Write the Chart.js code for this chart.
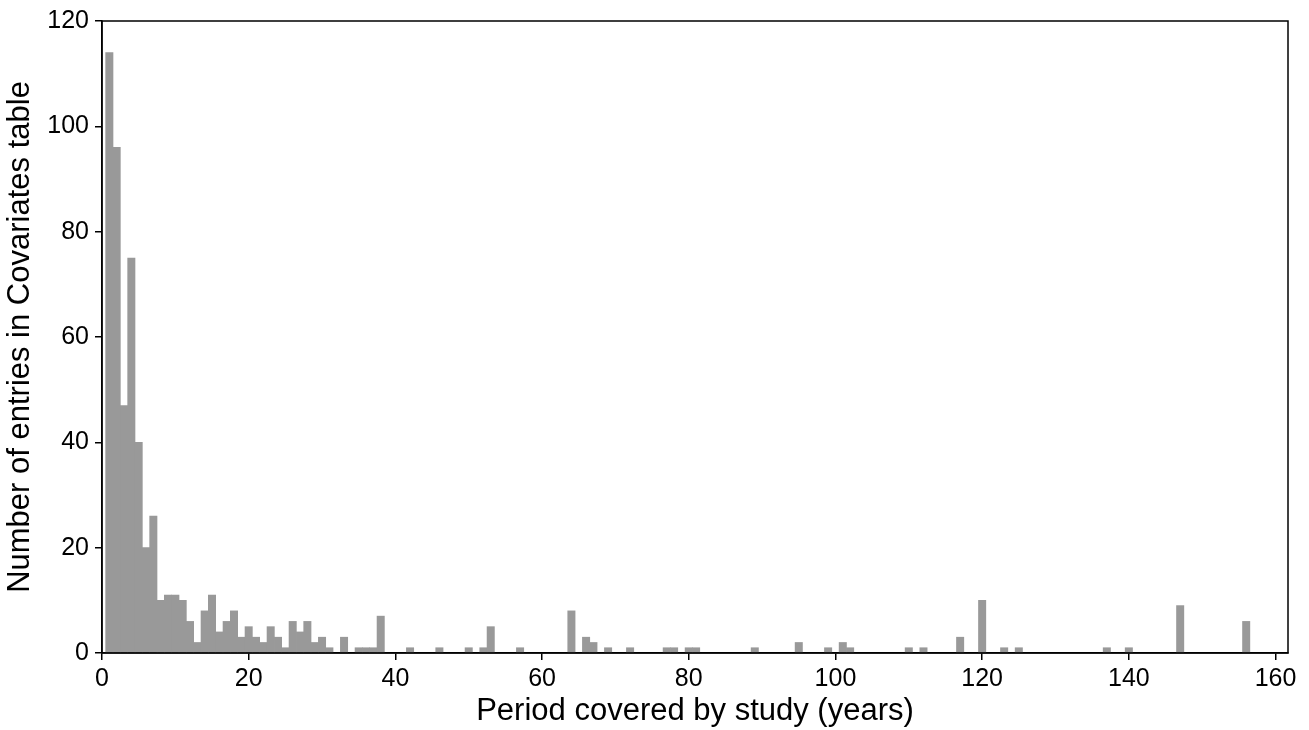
<!DOCTYPE html>
<html>
<head>
<meta charset="utf-8">
<script src="https://cdn.jsdelivr.net/npm/chart.js@4"></script>
<style>
  html, body { margin: 0; padding: 0; background: #fff; }
  #wrap { width: 1309px; height: 730px; }
</style>
</head>
<body>
<div id="wrap"><canvas id="chart" width="1309" height="730"></canvas></div>
<script>
// period covered (years) -> number of entries (zero bins left out)
const periods = [1, 2, 3, 4, 5, 6, 7, 8, 9, 10, 11, 12, 13, 14, 15, 16, 17, 18, 19, 20,
  21, 22, 23, 24, 25, 26, 27, 28, 29, 30, 31, 33, 35, 36, 37, 38, 42, 46, 50, 52,
  53, 57, 64, 66, 67, 69, 72, 77, 78, 80, 81, 89, 95, 99, 101, 102, 110, 112, 117, 120,
  123, 125, 137, 140, 147, 156];
const counts = [114, 96, 47, 75, 40, 20, 26, 10, 11, 11, 10, 6, 2, 8, 11, 4, 6, 8, 3, 5,
  3, 2, 5, 3, 1, 6, 4, 6, 2, 3, 1, 3, 1, 1, 1, 7, 1, 1, 1, 1,
  5, 1, 8, 3, 2, 1, 1, 1, 1, 1, 1, 1, 2, 1, 2, 1, 1, 1, 3, 10,
  1, 1, 1, 1, 9, 6];

const xLabel = 'Period covered by study (years)';
const yLabel = 'Number of entries in Covariates table';

const FONT = '"Liberation Sans", Arial, sans-serif';

// closed box around the plot
const boxPlugin = {
  id: 'box',
  afterDraw(chart) {
    const a = chart.chartArea, c = chart.ctx;
    c.save();
    c.strokeStyle = '#000';
    c.lineWidth = 1.5;
    c.strokeRect(a.left, a.top, a.right - a.left, a.bottom - a.top);
    c.restore();
  }
};

new Chart(document.getElementById('chart'), {
  type: 'bar',
  data: {
    datasets: [{
      data: periods.map((p, i) => ({ x: p, y: counts[i] })),
      backgroundColor: '#999999',
      borderWidth: 0,
      barPercentage: 1,
      categoryPercentage: 1,
    }],
  },
  options: {
    responsive: false,
    animation: false,
    layout: { padding: { top: 19, right: 21, left: 0, bottom: 0 } },
    plugins: { legend: { display: false }, tooltip: { enabled: false } },
    scales: {
      x: {
        type: 'linear', min: 0, max: 161.7, offset: false,
        grid: { display: true, offset: false, drawOnChartArea: false, drawTicks: true, tickLength: 7, color: '#000', lineWidth: 1.5 },
        border: { display: true, color: '#000', width: 1.5 },
        ticks: { stepSize: 20, includeBounds: false, color: '#000', padding: 4, maxRotation: 0,
          font: { family: FONT, size: 25 } },
        title: { display: true, text: xLabel, color: '#000', padding: { top: 0, bottom: 0 },
          font: { family: FONT, size: 31 } },
        afterFit(s) { s.height = 77; },
      },
      y: {
        min: 0, max: 120,
        grid: { display: true, drawOnChartArea: false, drawTicks: true, tickLength: 7, color: '#000', lineWidth: 1.5 },
        border: { display: true, color: '#000', width: 1.5 },
        ticks: { stepSize: 20, color: '#000', padding: 6, font: { family: FONT, size: 25 } },
        title: { display: true, text: yLabel, color: '#000', padding: { top: 2, bottom: 4 },
          font: { family: FONT, size: 31 } },
        afterFit(s) { s.width = 102; },
      },
    },
  },
  plugins: [boxPlugin],
});
</script>
</body>
</html>
